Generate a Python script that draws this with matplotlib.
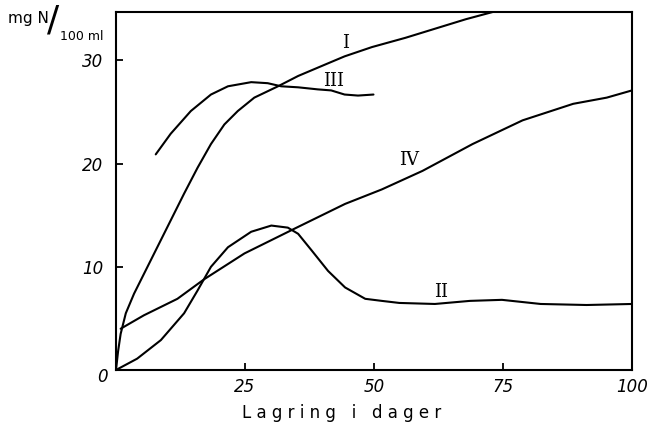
import numpy as np
import matplotlib
matplotlib.use("Agg")
import matplotlib.pyplot as plt

# curve values (days, mg N / 100 ml)
x_I = [0, 0.4, 0.9, 1.9, 3.5, 5.4, 8.0, 10.6, 13.2, 15.8, 18.4, 21.0, 23.6, 26.8, 31.4, 35.3, 40.5, 44.3, 49.6, 56.1, 62.6, 67.8, 73.0]
y_I = [0, 1.8, 3.5, 5.5, 7.4, 9.3, 11.9, 14.5, 17.1, 19.6, 21.9, 23.8, 25.1, 26.4, 27.5, 28.5, 29.6, 30.4, 31.3, 32.2, 33.2, 34.0, 34.7]

x_II = [0, 4.1, 8.7, 13.2, 15.8, 18.4, 21.7, 26.2, 30.1, 33.3, 35.3, 37.9, 41.1, 44.4, 48.3, 51.5, 54.9, 61.8, 68.6, 74.8, 82.3, 91.2, 100]
y_II = [0, 1.1, 2.9, 5.5, 7.7, 10.0, 11.9, 13.4, 14.0, 13.8, 13.2, 11.6, 9.6, 8.0, 6.9, 6.7, 6.5, 6.4, 6.7, 6.8, 6.4, 6.3, 6.4]

x_III = [7.7, 10.6, 14.5, 18.4, 21.7, 26.2, 29.4, 32.0, 35.3, 39.1, 41.7, 44.3, 46.9, 49.9]
y_III = [20.9, 22.9, 25.1, 26.7, 27.5, 27.9, 27.8, 27.5, 27.4, 27.2, 27.1, 26.7, 26.6, 26.7]

x_IV = [0.9, 5.4, 11.9, 17.1, 24.9, 34.6, 44.4, 51.5, 59.4, 69.1, 78.8, 88.6, 95.1, 100]
y_IV = [4.0, 5.3, 6.9, 8.8, 11.3, 13.7, 16.1, 17.5, 19.3, 21.9, 24.2, 25.8, 26.4, 27.1]

xticks = [25, 50, 75, 100]
yticks = [10, 20, 30]

fig = plt.figure(figsize=(6.52, 4.32), dpi=100)
ax = fig.add_axes([116/652, 62/432, 516/652, 358/432])

for xs, ys in [(x_I, y_I), (x_II, y_II), (x_III, y_III), (x_IV, y_IV)]:
    ax.plot(xs, ys, color="black", lw=1.5, solid_capstyle="round", solid_joinstyle="round")

ax.set_xlim(0, 100)
ax.set_ylim(0, 34.7)
ax.set_xticks(xticks)
ax.set_yticks(yticks)
ax.set_xticklabels([str(t) for t in xticks], fontsize=12, style="italic")
ax.set_yticklabels([str(t) for t in yticks], fontsize=12, style="italic")
ax.tick_params(direction="in", length=5, width=1.3)
ax.tick_params(axis="x", pad=6)
ax.tick_params(axis="y", pad=9)
for s in ax.spines.values():
    s.set_linewidth(1.5)

# curve labels
lab = dict(fontsize=13, family="DejaVu Serif", ha="center", va="center")
ax.text(44.5, 31.7, "I", **lab)
ax.text(42.1, 28.0, "III", **lab)
ax.text(56.8, 20.4, "IV", **lab)
ax.text(62.9, 7.6, "II", **lab)

fig.text(102/652, 1 - 377/432, "0", fontsize=12, style="italic", ha="center", va="center")
fig.text(342/652, 1 - 413/432, "L a g r i n g   i   d a g e r", fontsize=12, ha="center", va="center")
fig.text(8/652, 1 - 19/432, "mg N", fontsize=11, ha="left", va="center")
fig.text(53/652, 1 - 20/432, "/", fontsize=26, ha="center", va="center")
fig.text(60/652, 1 - 37/432, "100 ml", fontsize=9, ha="left", va="center")

fig.savefig("out.png", dpi=100)
